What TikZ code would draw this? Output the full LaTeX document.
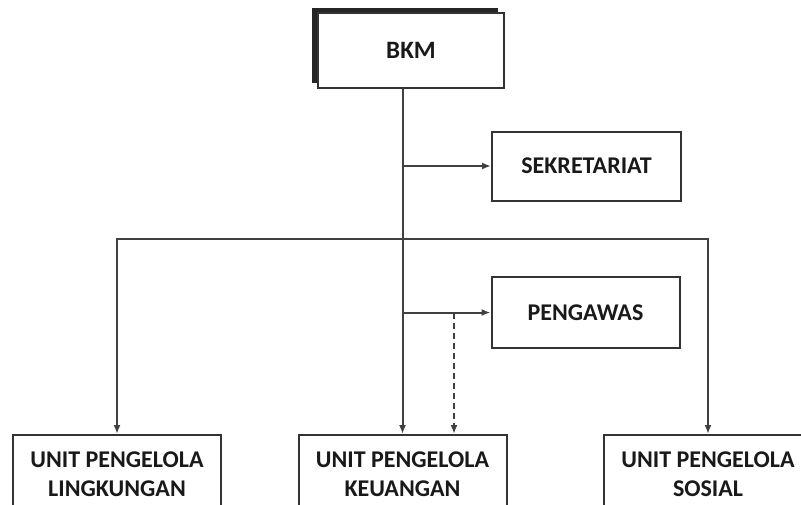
\documentclass[tikz,border=0pt]{standalone}
\usepackage{fontspec}
\setmainfont{Carlito}
\usetikzlibrary{positioning,arrows.meta,shadows}

\begin{document}
\begin{tikzpicture}[
    x=1pt,
    y=-1pt,
    font=\fontsize{24}{29}\selectfont\bfseries,
    block/.style={
        draw=black!80,
        line width=2pt,
        fill=white,
        text=black!90,
        minimum width=188pt,
        minimum height=70pt,
        inner sep=0pt,
        align=center
    },
    unit/.style={block, minimum width=208pt, minimum height=78pt},
    headbox/.style={block, minimum width=186pt, minimum height=75pt,
        font=\fontsize{25}{29}\selectfont\bfseries,
        general shadow={shadow xshift=-6pt, shadow yshift=5pt, fill=black!85}},
    arrow/.style={-{Latex[length=9pt,width=7pt]}, line width=2pt, draw=black!75},
    link/.style={line width=2pt, draw=black!75}
]
\useasboundingbox (0,0) rectangle (801,504);
\clip (0,0) rectangle (801,504);

% ============================================================
% PIMPINAN
% ============================================================
\node[headbox] (bkm) at (411,50.5) {BKM};
\node[block, minimum width=189pt, minimum height=69pt] (sek) at (586.5,166) {SEKRETARIAT};
\node[block, minimum height=71pt] (pengawas) at (585.5,312.5) {PENGAWAS};

% ============================================================
% UNIT PENGELOLA
% ============================================================
\node[unit] (ling) at (117,474) {UNIT PENGELOLA\\LINGKUNGAN};
\node[unit] (keu) at (402.5,474) {UNIT PENGELOLA\\KEUANGAN};
\node[unit] (sos) at (708,474) {UNIT PENGELOLA\\SOSIAL};

% titik cabang
\coordinate (trunk) at (bkm.south -| keu.north);
\coordinate (cab) at (keu.north |- 0,239);
\coordinate (kawal) at (454,312.5);

\draw[arrow] (trunk) -- (keu.north);
\draw[arrow] (trunk |- sek.west) -- (sek.west);
\draw[arrow] (trunk |- pengawas.west) -- (pengawas.west);
\draw[arrow] (cab) -| (ling.north);
\draw[arrow] (cab) -| (sos.north);

% garis pengawasan
\draw[arrow, dash pattern=on 6pt off 4pt] (kawal) -- (kawal |- keu.north);

\end{tikzpicture}
\end{document}
